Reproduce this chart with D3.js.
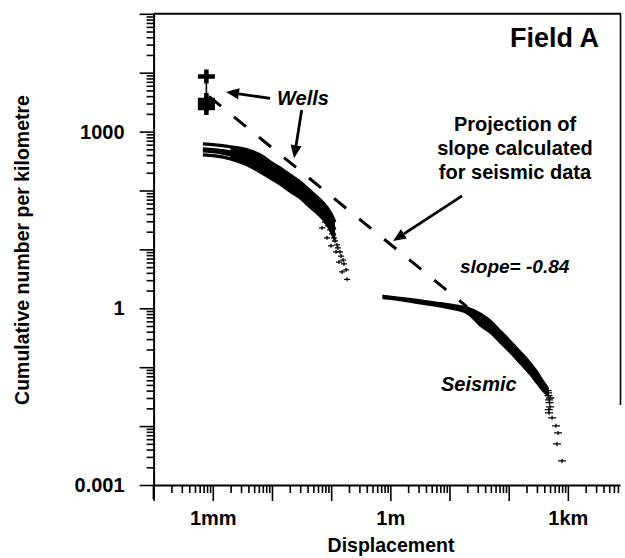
<!DOCTYPE html>
<html>
<head>
<meta charset="utf-8">
<script src="https://cdn.jsdelivr.net/npm/d3@7"></script>
<style>
body { margin: 0; background: #fff; }
text { font-family: "Liberation Sans", Arial, Helvetica, sans-serif; fill: #000; }
</style>
</head>
<body>
<svg id="chart" width="625" height="558"></svg>
<script>
// tick labels
var xTickVals = [1e-3, 1, 1e3];
var xTickLabels = ["1mm", "1m", "1km"];
var yTickVals = [1e-3, 1, 1e3];
var yTickLabels = ["0.001", "1", "1000"];

// wells: displacement (m) vs cumulative number per km
var wellsX = [7.8e-4, 7.8e-4, 7.8e-4, 7.8e-4];
var wellsY = [8590, 3450, 2950, 2520];

// small scale (core / outcrop) curves
var mmX   = [6.8e-4, 1.1e-3, 2e-3, 3.8e-3, 6.3e-3, 9.3e-3, 0.0137, 0.02, 0.03, 0.039, 0.053, 0.073, 0.096, 0.116];
var mmTop = [618, 595, 550, 489, 402, 306, 242, 184, 140, 111, 84, 62, 43, 29];
var mm2   = [508, 489, 452, 402, 331, 262, 207, 157, 115, 91, 67, 49, 33, 21.4];
var mm3   = [470, 452, 402, 344, 272, 215, 164, 124, 95, 72, 55, 38.5, 26, 17];
var mmBot = [402, 387, 344, 272, 207, 164, 129, 98, 75, 59, 45, 33, 22.3, 14.5];
// scattered tail of the small scale data
var mmTailX = [0.0787, 0.0885, 0.096, 0.1035, 0.1114, 0.116, 0.1256, 0.130, 0.141, 0.147, 0.159, 0.165, 0.179, 0.186, 0.070, 0.085, 0.0995, 0.121, 0.1356, 0.153];
var mmTailY = [29, 25, 21.4, 18.3, 15.7, 13.9, 11.9, 10.6, 9.1, 7.7, 6.6, 5.7, 4.5, 3.1, 23.2, 15.7, 11.5, 9.1, 6.1, 4.15];

// seismic data band (upper / lower edge)
var seisX    = [0.753, 1.458, 3.18, 6.92, 12.4, 20.6, 32.8, 48.4, 71.5, 105, 156, 230, 301, 381, 464];
var seisHigh = [1.66, 1.53, 1.39, 1.24, 1.14, 1.035, 0.835, 0.636, 0.43, 0.29, 0.189, 0.123, 0.0865, 0.0597, 0.0446];
var seisLow  = [1.47, 1.36, 1.19, 1.06, 0.94, 0.79, 0.502, 0.382, 0.258, 0.175, 0.114, 0.074, 0.052, 0.0388, 0.0326];
var seisTailX = [464, 481, 500, 481, 541, 631, 683, 656, 798, 470, 490, 475, 455, 500];
var seisTailY = [0.0366, 0.0279, 0.0212, 0.0168, 0.0138, 0.0101, 0.00766, 0.00499, 0.00256, 0.033, 0.025, 0.019, 0.04, 0.03];

// projected slope line (slope = -0.84)
var projX = [8.6e-4, 19.8];
var projY = [3960, 1.06];

var svg = d3.select("#chart");

var x = d3.scaleLog().domain([1e-4, 7600]).range([153.6, 620]);
var y = d3.scaleLog().domain([1e-3, 1e5]).range([485, 13.8]);

function logTicks(lo, hi, majorOnly) {
    var out = [];
    for (var e = Math.floor(Math.log10(lo)); e <= Math.ceil(Math.log10(hi)); e++) {
        for (var m = 1; m <= 9; m++) {
            if (majorOnly && m > 1) continue;
            if (!majorOnly && m == 1) continue;
            var v = m * Math.pow(10, e);
            if (v >= lo * 0.999 && v <= hi * 1.001) out.push(v);
        }
    }
    return out;
}

// frame top / right
svg.append("line")
    .attr("x1", 153.6).attr("x2", 621).attr("y1", 13.8).attr("y2", 13.8)
    .attr("stroke", "#000").attr("stroke-width", 2);
svg.append("line")
    .attr("x1", 620.5).attr("x2", 620.5).attr("y1", 13).attr("y2", 405)
    .attr("stroke", "#000").attr("stroke-width", 1.6);

// X axis
var gx = svg.append("g").attr("transform", "translate(0,485)");
gx.call(d3.axisBottom(x).tickValues(logTicks(1e-4, 7600, false)).tickSize(8).tickSizeOuter(0).tickFormat(""));
gx.select(".domain").remove();
var gxM = svg.append("g").attr("transform", "translate(0,485)");
gxM.call(d3.axisBottom(x).tickValues(logTicks(1e-4, 7600, true)).tickSize(16).tickSizeOuter(0).tickPadding(10)
    .tickFormat(function(d) {
        var i = xTickVals.findIndex(function(v) { return Math.abs(Math.log10(v) - Math.log10(d)) < 1e-6; });
        return i < 0 ? "" : xTickLabels[i];
    }));
gxM.select(".domain").attr("stroke", "#000").attr("stroke-width", 2);
gxM.selectAll("text").attr("font-size", 20).attr("font-weight", "bold")
    .style("font-family", "'Liberation Sans', Arial, sans-serif");

// Y axis
var gy = svg.append("g").attr("transform", "translate(153.6,0)");
gy.call(d3.axisLeft(y).tickValues(logTicks(1e-3, 1e5, false)).tickSize(7).tickSizeOuter(0).tickFormat(""));
gy.select(".domain").remove();
var gyM = svg.append("g").attr("transform", "translate(153.6,0)");
gyM.call(d3.axisLeft(y).tickValues(logTicks(1e-3, 1e5, true)).tickSize(14).tickSizeOuter(0).tickPadding(15)
    .tickFormat(function(d) {
        var i = yTickVals.findIndex(function(v) { return Math.abs(Math.log10(v) - Math.log10(d)) < 1e-6; });
        return i < 0 ? "" : yTickLabels[i];
    }));
gyM.select(".domain").attr("stroke", "#000").attr("stroke-width", 2);
gyM.selectAll("text").attr("font-size", 20).attr("font-weight", "bold")
    .style("font-family", "'Liberation Sans', Arial, sans-serif");
svg.selectAll(".tick line").attr("stroke", "#000").attr("stroke-width", 1.6);

// extend left axis below the x axis like the original
svg.append("line")
    .attr("x1", 153.6).attr("x2", 153.6).attr("y1", 485).attr("y2", 499)
    .attr("stroke", "#000").attr("stroke-width", 2);

// axis titles
svg.append("text")
    .attr("x", 391).attr("y", 552)
    .attr("text-anchor", "middle")
    .attr("font-size", 19.5).attr("font-weight", "bold")
    .text("Displacement");
svg.append("text")
    .attr("transform", "translate(29,250) rotate(-90)")
    .attr("text-anchor", "middle")
    .attr("font-size", 19.5).attr("font-weight", "bold")
    .text("Cumulative number per kilometre");

// small scale band
var mmBand = mmX.map(function(v, i) { return {x: v, hi: mmTop[i], lo: mmBot[i]}; }).slice(2);
svg.append("path")
    .datum(mmBand)
    .attr("d", d3.area()
        .x(function(d) { return x(d.x); })
        .y0(function(d) { return y(d.lo); })
        .y1(function(d) { return y(d.hi); })
        .curve(d3.curveMonotoneX))
    .attr("fill", "#000");

[mmTop, mm2, mm3, mmBot].forEach(function(series) {
    svg.append("path")
        .datum(mmX.map(function(v, i) { return [v, series[i]]; }))
        .attr("d", d3.line()
            .x(function(d) { return x(d[0]); })
            .y(function(d) { return y(d[1]); })
            .curve(d3.curveMonotoneX))
        .attr("fill", "none")
        .attr("stroke", "#000")
        .attr("stroke-width", 3.2);
});

function plus(sel, xs, ys, hw, hh, sw) {
    sel.selectAll(null)
        .data(xs.map(function(v, i) { return [v, ys[i]]; }))
        .enter()
        .append("path")
        .attr("d", function(d) {
            var cx = x(d[0]), cy = y(d[1]);
            return "M" + (cx - hw) + "," + cy + "H" + (cx + hw) + "M" + cx + "," + (cy - hh) + "V" + (cy + hh);
        })
        .attr("stroke", "#000")
        .attr("stroke-width", sw)
        .attr("fill", "none");
}

plus(svg, mmTailX, mmTailY, 3, 2, 1.3);

// seismic band
var seisBand = seisX.map(function(v, i) { return {x: v, hi: seisHigh[i], lo: seisLow[i]}; });
svg.append("path")
    .datum(seisBand)
    .attr("d", d3.area()
        .x(function(d) { return x(d.x); })
        .y0(function(d) { return y(d.lo); })
        .y1(function(d) { return y(d.hi); })
        .curve(d3.curveMonotoneX))
    .attr("fill", "#000")
    .attr("stroke", "#000")
    .attr("stroke-width", 1.4);
plus(svg, seisTailX, seisTailY, 4, 2, 1.3);

// wells
svg.append("path")
    .datum(wellsX.map(function(v, i) { return [v, wellsY[i]]; }))
    .attr("d", d3.line().x(function(d) { return x(d[0]); }).y(function(d) { return y(d[1]); }))
    .attr("stroke", "#000").attr("stroke-width", 1.6).attr("fill", "none");
plus(svg, wellsX, wellsY, 8.5, 7, 4.5);

// projection of seismic slope
svg.append("path")
    .datum(projX.map(function(v, i) { return [v, projY[i]]; }))
    .attr("d", d3.line().x(function(d) { return x(d[0]); }).y(function(d) { return y(d[1]); }))
    .attr("stroke", "#000")
    .attr("stroke-width", 3)
    .attr("stroke-dasharray", "15.5,16.8")
    .attr("fill", "none");

// arrows (data coordinates)
function arrow(x1, y1, x2, y2) {
    var ax = x(x1), ay = y(y1), bx = x(x2), by = y(y2);
    var ang = Math.atan2(by - ay, bx - ax);
    var len = 13, hw = 5.5;
    var baseX = bx - len * Math.cos(ang), baseY = by - len * Math.sin(ang);
    svg.append("line")
        .attr("x1", ax).attr("y1", ay).attr("x2", baseX).attr("y2", baseY)
        .attr("stroke", "#000").attr("stroke-width", 2.8);
    svg.append("path")
        .attr("d", "M" + bx + "," + by +
            "L" + (baseX + hw * Math.sin(ang)) + "," + (baseY - hw * Math.cos(ang)) +
            "L" + (baseX - hw * Math.sin(ang)) + "," + (baseY + hw * Math.cos(ang)) + "Z")
        .attr("fill", "#000");
}
arrow(9.3e-3, 3660, 1.67e-3, 4720);
arrow(0.0318, 2330, 0.0236, 353);
arrow(16.3, 81, 1.11, 13.9);

// annotations
svg.append("text")
    .attr("x", 599).attr("y", 46.5)
    .attr("text-anchor", "end")
    .attr("font-size", 27).attr("font-weight", "bold")
    .text("Field A");

svg.append("text")
    .attr("x", 277).attr("y", 105)
    .attr("font-size", 20).attr("font-weight", "bold").attr("font-style", "italic")
    .text("Wells");

["Projection of", "slope calculated", "for seismic data"].forEach(function(t, i) {
    svg.append("text")
        .attr("x", 515).attr("y", 131 + i * 24)
        .attr("text-anchor", "middle")
        .attr("font-size", 20).attr("font-weight", "bold")
        .text(t);
});

svg.append("text")
    .attr("x", 460).attr("y", 273)
    .attr("font-size", 19).attr("font-weight", "bold").attr("font-style", "italic")
    .text("slope= -0.84");

svg.append("text")
    .attr("x", 441).attr("y", 390.5)
    .attr("font-size", 20).attr("font-weight", "bold").attr("font-style", "italic")
    .text("Seismic");
</script>
</body>
</html>
